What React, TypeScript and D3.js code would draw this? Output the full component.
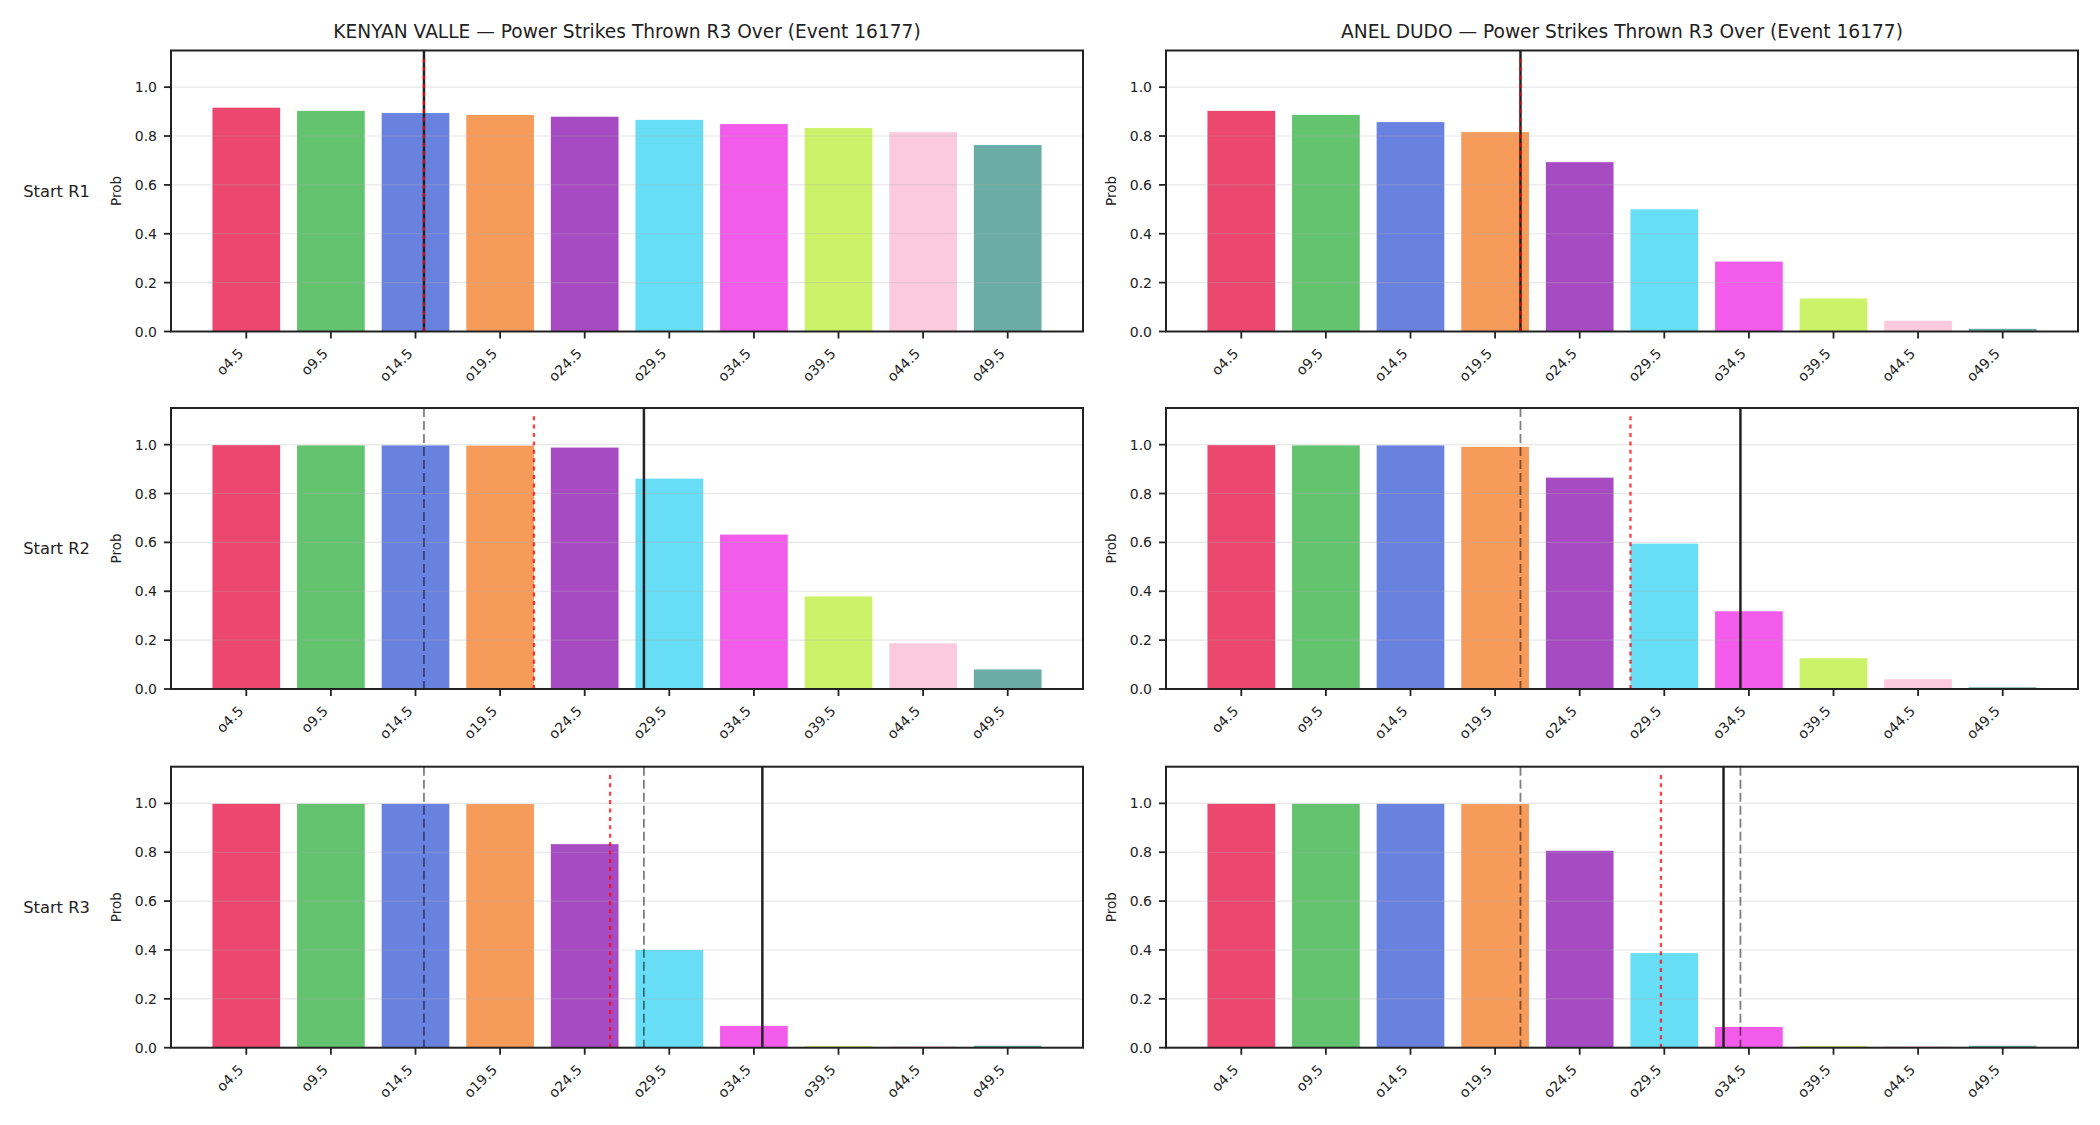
import React from "react";
import * as d3 from "d3";

// strike-count lines on the x axis
const lineLabels = ["o4.5", "o9.5", "o14.5", "o19.5", "o24.5", "o29.5", "o34.5", "o39.5", "o44.5", "o49.5"];
const lineValues = [4.5, 9.5, 14.5, 19.5, 24.5, 29.5, 34.5, 39.5, 44.5, 49.5];
const yTicks = [0, 0.2, 0.4, 0.6, 0.8, 1.0];

const fighters = ["KENYAN VALLE", "ANEL DUDO"];
const rounds = ["Start R1", "Start R2", "Start R3"];

// P(over) per line, one array per fighter and starting round
const valleR1 = [0.916, 0.903, 0.894, 0.886, 0.879, 0.866, 0.849, 0.833, 0.816, 0.763];
const valleR2 = [0.998, 0.997, 0.997, 0.996, 0.988, 0.861, 0.632, 0.379, 0.187, 0.080];
const valleR3 = [0.998, 0.998, 0.998, 0.997, 0.833, 0.400, 0.089, 0.007, 0.006, 0.008];
const dudoR1 = [0.903, 0.886, 0.857, 0.816, 0.693, 0.500, 0.286, 0.135, 0.044, 0.011];
const dudoR2 = [0.998, 0.997, 0.997, 0.991, 0.865, 0.595, 0.318, 0.126, 0.040, 0.007];
const dudoR3 = [0.998, 0.998, 0.998, 0.997, 0.806, 0.387, 0.085, 0.007, 0.006, 0.008];

// strikes landed so far (solid) and projected finish (dotted) at each round start
const valleCurrent = [15, 28, 35];
const valleProjected = [15, 21.5, 26];
const dudoCurrent = [21, 34, 33];
const dudoProjected = [21, 27.5, 29.3];

const colors = ["#e6194b", "#3cb44b", "#4363d8", "#f58231", "#911eb4", "#42d4f4", "#f032e6", "#bfef45", "#fabed4", "#469990"];

const W = 2100;
const H = 1125;
const colLeft = [171, 1166];
const rowTop = [50.5, 408, 766.7];
const panelW = 912;
const panelH = 281;
const font = "DejaVu Sans, sans-serif";

type PanelProps = {
  left: number;
  top: number;
  values: number[];
  current: number;
  projected: number;
  previous: number[];
  title?: string;
  rowLabel?: string;
};

function Panel({ left, top, values, current, projected, previous, title, rowLabel }: PanelProps) {
  const x = d3.scaleLinear().domain([-0.89, 9.89]).range([left, left + panelW]);
  const y = d3.scaleLinear().domain([0, 1.15]).range([top + panelH, top]);
  const idx = d3.scaleLinear().domain([lineValues[0], lineValues[lineValues.length - 1]]).range([0, lineValues.length - 1]);
  const bottom = top + panelH;
  const bw = x(0.8) - x(0);

  return (
    <g>
      {values.map((v, i) => (
        <rect
          key={i}
          x={x(i) - bw / 2}
          y={y(v)}
          width={bw}
          height={y(0) - y(v)}
          fill={colors[i]}
          fillOpacity={0.8}
        />
      ))}
      {yTicks.map((t) => (
        <line key={t} x1={left} x2={left + panelW} y1={y(t)} y2={y(t)} stroke="#b0b0b0" strokeOpacity={0.3} strokeWidth={1.1} />
      ))}
      {previous.map((p, i) => (
        <line key={i} x1={x(idx(p))} x2={x(idx(p))} y1={top} y2={bottom} stroke="#000" strokeOpacity={0.5} strokeWidth={1.8} strokeDasharray="9,4" />
      ))}
      <line x1={x(idx(current))} x2={x(idx(current))} y1={top} y2={bottom} stroke="#222" strokeWidth={2.5} />
      <line x1={x(idx(projected))} x2={x(idx(projected))} y1={y(0)} y2={y(1.125)} stroke="#ff0000" strokeOpacity={0.75} strokeWidth={2.3} strokeDasharray="4,4.4" />
      <rect x={left} y={top} width={panelW} height={panelH} fill="none" stroke="#222" strokeWidth={2} />

      {yTicks.map((t) => (
        <g key={t}>
          <line x1={left - 7} x2={left} y1={y(t)} y2={y(t)} stroke="#222" strokeWidth={1.8} />
          <text x={left - 14} y={y(t)} dy="0.36em" textAnchor="end" fontSize={14} fontFamily={font} fill="#222">
            {t.toFixed(1)}
          </text>
        </g>
      ))}
      {lineLabels.map((l, i) => (
        <g key={l}>
          <line x1={x(i)} x2={x(i)} y1={bottom} y2={bottom + 7} stroke="#222" strokeWidth={1.8} />
          <text
            transform={`translate(${x(i) - 2},${bottom + 23}) rotate(-45)`}
            textAnchor="end"
            fontSize={14}
            fontFamily={font}
            fill="#222"
          >
            {l}
          </text>
        </g>
      ))}
      <text
        transform={`translate(${left - 50},${top + panelH / 2}) rotate(-90)`}
        textAnchor="middle"
        fontSize={13.5}
        fontFamily={font}
        fill="#222"
      >
        Prob
      </text>
      {title && (
        <text x={left + panelW / 2} y={top - 13} textAnchor="middle" fontSize={18.6} fontFamily={font} fill="#222">
          {title}
        </text>
      )}
      {rowLabel && (
        <text x={56.5} y={top + panelH / 2} dy="0.36em" textAnchor="middle" fontSize={16.3} fontFamily={font} fill="#222">
          {rowLabel}
        </text>
      )}
    </g>
  );
}

export default function App() {
  const series = [
    { name: fighters[0], rows: [valleR1, valleR2, valleR3], current: valleCurrent, projected: valleProjected },
    { name: fighters[1], rows: [dudoR1, dudoR2, dudoR3], current: dudoCurrent, projected: dudoProjected },
  ];
  return (
    <svg width={W} height={H} style={{ position: "absolute", left: 0, top: 0, background: "#fff" }}>
      <rect width={W} height={H} fill="#fff" />
      {series.map((s, c) =>
        s.rows.map((vals, r) => (
          <Panel
            key={`${c}-${r}`}
            left={colLeft[c]}
            top={rowTop[r]}
            values={vals}
            current={s.current[r]}
            projected={s.projected[r]}
            previous={s.current.slice(0, r)}
            title={r === 0 ? `${s.name} — Power Strikes Thrown R3 Over (Event 16177)` : undefined}
            rowLabel={c === 0 ? rounds[r] : undefined}
          />
        ))
      )}
    </svg>
  );
}
